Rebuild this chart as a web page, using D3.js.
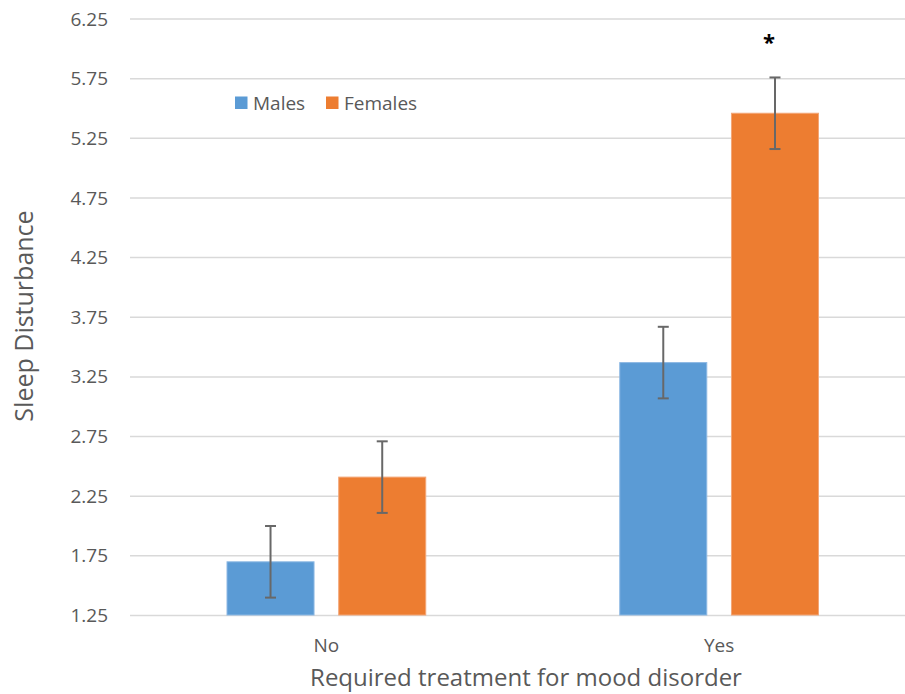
<!DOCTYPE html>
<html>
<head>
<meta charset="utf-8">
<script src="https://cdn.jsdelivr.net/npm/d3@7/dist/d3.min.js"></script>
<style>
  html, body { margin: 0; padding: 0; background: #fff; }
  svg { display: block; font-family: "Open Sans", sans-serif; }
</style>
</head>
<body>
<svg id="chart" width="905" height="694"></svg>
<script>
const categories = ["No", "Yes"];
const series = ["Males", "Females"];
const males = [1.70, 3.37];
const females = [2.41, 5.46];
const malesErr = [0.30, 0.30];
const femalesErr = [0.30, 0.30];
const yTicks = [1.25, 1.75, 2.25, 2.75, 3.25, 3.75, 4.25, 4.75, 5.25, 5.75, 6.25];
const significant = [false, true]; // asterisk over Females bar

const colors = { Males: "#5b9bd5", Females: "#ed7d31" };
const strokes = { Males: "#8db8e3", Females: "#f3a676" };

const data = categories.map((c, i) => ({
  cat: c,
  vals: [
    { s: "Males", v: males[i], e: malesErr[i] },
    { s: "Females", v: females[i], e: femalesErr[i] }
  ],
  sig: significant[i]
}));

const svg = d3.select("#chart");
const pLeft = 130, pRight = 915.5, pTop = 19, pBottom = 615.5;

const x0 = d3.scaleBand().domain(categories).range([pLeft, pRight]).padding(0);
const x1 = d3.scaleBand().domain(series).range([0, x0.bandwidth()])
  .paddingInner(0.212).paddingOuter(0.864);
const y = d3.scaleLinear().domain([1.25, 6.25]).range([pBottom, pTop]);

// gridlines
svg.append("g").selectAll("line").data(yTicks).join("line")
  .attr("x1", pLeft).attr("x2", pRight)
  .attr("y1", d => y(d)).attr("y2", d => y(d))
  .attr("stroke", "#d9d9d9").attr("stroke-width", 1.5);

// y axis labels
const yAxis = d3.axisLeft(y).tickValues(yTicks).tickFormat(d3.format(".2f")).tickSize(0).tickPadding(0);
const ya = svg.append("g").attr("transform", `translate(108,0)`).call(yAxis);
ya.select(".domain").remove();
ya.selectAll("text").attr("fill", "#595959").style("font-size", "19px").style("font-family", "Open Sans");

// x axis labels
const xAxis = d3.axisBottom(x0).tickSize(0).tickPadding(0);
const xa = svg.append("g").attr("transform", `translate(0,${pBottom})`).call(xAxis);
xa.select(".domain").remove();
xa.selectAll("text").attr("fill", "#595959").attr("dy", "0").attr("y", 36)
  .style("font-size", "19px").style("font-family", "Open Sans");

// bars
const groups = svg.append("g").selectAll("g").data(data).join("g")
  .attr("transform", d => `translate(${x0(d.cat)},0)`);

groups.selectAll("rect").data(d => d.vals).join("rect")
  .attr("x", d => x1(d.s) + 0.5)
  .attr("width", x1.bandwidth() - 1)
  .attr("y", d => y(d.v))
  .attr("height", d => y(1.25) - y(d.v) - 0.5)
  .attr("fill", d => colors[d.s])
  .attr("stroke", d => strokes[d.s]).attr("stroke-width", 1);

// error bars
const eb = groups.selectAll("g.err").data(d => d.vals).join("g").attr("class", "err");
const cx = d => x1(d.s) + x1.bandwidth() / 2;
eb.append("line")
  .attr("x1", cx).attr("x2", cx)
  .attr("y1", d => y(d.v + d.e)).attr("y2", d => y(d.v - d.e))
  .attr("stroke", "#686868").attr("stroke-width", 2);
eb.append("line")
  .attr("x1", d => cx(d) - 5.5).attr("x2", d => cx(d) + 5.5)
  .attr("y1", d => y(d.v + d.e)).attr("y2", d => y(d.v + d.e))
  .attr("stroke", "#686868").attr("stroke-width", 2);
eb.append("line")
  .attr("x1", d => cx(d) - 5.5).attr("x2", d => cx(d) + 5.5)
  .attr("y1", d => y(d.v - d.e)).attr("y2", d => y(d.v - d.e))
  .attr("stroke", "#686868").attr("stroke-width", 2);

// significance asterisk
groups.filter(d => d.sig).append("text")
  .attr("x", d => x1("Females") + x1.bandwidth() / 2 - 6)
  .attr("y", d => y(d.vals[1].v + d.vals[1].e) - 27)
  .attr("text-anchor", "middle")
  .attr("fill", "#000")
  .style("font-size", "22px").style("font-weight", "bold")
  .text("*");

// legend
const legend = svg.append("g");
const legendX = [235, 326];
series.forEach((s, i) => {
  legend.append("rect").attr("x", legendX[i]).attr("y", 96.5)
    .attr("width", 12.5).attr("height", 12.5).attr("fill", colors[s]);
  legend.append("text").attr("x", legendX[i] + 18).attr("y", 109.5)
    .attr("fill", "#595959").style("font-size", "19px").text(s);
});

// axis titles
svg.append("text").attr("x", 526).attr("y", 686).attr("text-anchor", "middle")
  .attr("fill", "#595959").style("font-size", "24px")
  .text("Required treatment for mood disorder");
svg.append("text").attr("transform", "translate(33,316) rotate(-90)")
  .attr("text-anchor", "middle")
  .attr("fill", "#595959").style("font-size", "25px")
  .text("Sleep Disturbance");
</script>
</body>
</html>
